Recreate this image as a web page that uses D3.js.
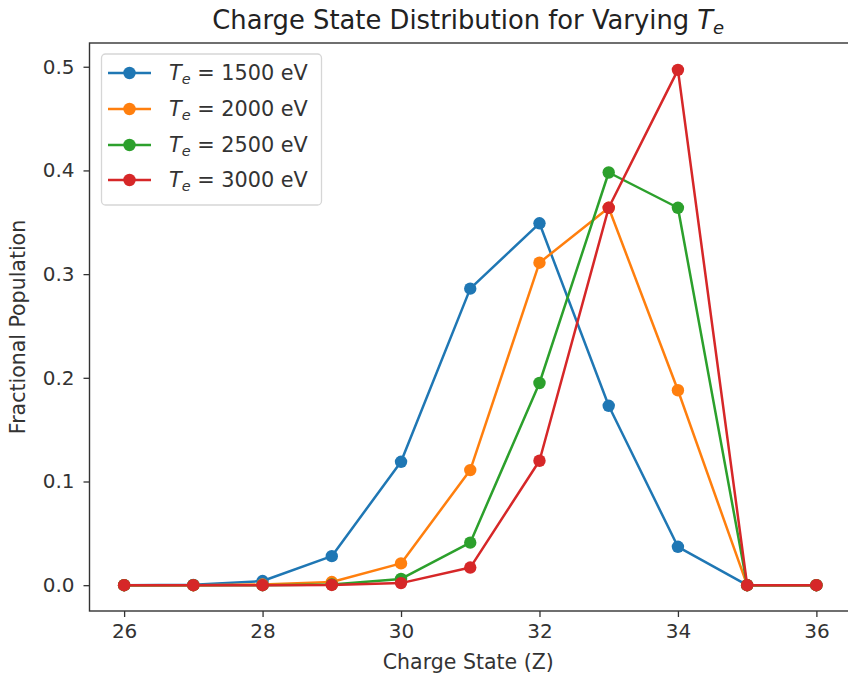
<!DOCTYPE html>
<html>
<head>
<meta charset="utf-8">
<script src="https://cdn.jsdelivr.net/npm/d3@7"></script>
<style>
  html, body { margin: 0; padding: 0; background: #fff; }
  svg { display: block; font-family: "DejaVu Sans", sans-serif; }
</style>
</head>
<body>
<svg id="chart" width="848" height="676"></svg>
<script>
// Charge states on the x axis
const chargeStates = [26, 27, 28, 29, 30, 31, 32, 33, 34, 35, 36];

// Fractional population for each electron temperature
const te1500 = [0.0, 0.0003, 0.004, 0.028, 0.119, 0.286, 0.349, 0.173, 0.037, 0.0, 0.0];
const te2000 = [0.0, 0.0, 0.0006, 0.003, 0.021, 0.111, 0.311, 0.364, 0.188, 0.0, 0.0];
const te2500 = [0.0, 0.0, 0.0, 0.0006, 0.006, 0.041, 0.195, 0.398, 0.364, 0.0, 0.0];
const te3000 = [0.0, 0.0, 0.0, 0.0002, 0.002, 0.017, 0.120, 0.364, 0.497, 0.0, 0.0];

const temperatures = [1500, 2000, 2500, 3000];
const seriesValues = [te1500, te2000, te2500, te3000];
const seriesColors = ["#1f77b4", "#ff7f0e", "#2ca02c", "#d62728"];

const xTicks = [26, 28, 30, 32, 34, 36];
const yTicks = [0.0, 0.1, 0.2, 0.3, 0.4, 0.5];

const svg = d3.select("#chart");
const plot = { left: 89.5, right: 851, top: 43, bottom: 611 };

const x = d3.scaleLinear().domain([25.5, 36.5]).range([plot.left, plot.right]);
const y = d3.scaleLinear().domain([-0.0249, 0.5229]).range([plot.bottom, plot.top]);

const tickFont = 20;

// Series: line then markers, later series on top
const line = d3.line().x(d => x(d[0])).y(d => y(d[1]));
seriesValues.forEach((vals, i) => {
  const pts = chargeStates.map((c, j) => [c, vals[j]]);
  const g = svg.append("g");
  g.append("path")
    .attr("d", line(pts))
    .attr("fill", "none")
    .attr("stroke", seriesColors[i])
    .attr("stroke-width", 2.5)
    .attr("stroke-linejoin", "round")
    .attr("stroke-linecap", "square");
  g.selectAll("circle").data(pts).enter().append("circle")
    .attr("cx", d => x(d[0]))
    .attr("cy", d => y(d[1]))
    .attr("r", 6.2)
    .attr("fill", seriesColors[i]);
});

// Axes frame
svg.append("rect")
  .attr("x", plot.left).attr("y", plot.top)
  .attr("width", plot.right - plot.left).attr("height", plot.bottom - plot.top)
  .attr("fill", "none").attr("stroke", "#333").attr("stroke-width", 1.4);

// X axis
const xAxis = d3.axisBottom(x).tickValues(xTicks).tickFormat(d3.format("d"))
  .tickSize(6).tickPadding(7);
const gx = svg.append("g").attr("transform", `translate(0,${plot.bottom})`).call(xAxis);
gx.select(".domain").remove();
gx.selectAll(".tick line").attr("stroke", "#333").attr("stroke-width", 1.3);
gx.selectAll(".tick text").attr("font-size", tickFont).attr("fill", "#333")
  .attr("font-family", "DejaVu Sans");

// Y axis
const yAxis = d3.axisLeft(y).tickValues(yTicks).tickFormat(d3.format(".1f"))
  .tickSize(6).tickPadding(9);
const gy = svg.append("g").attr("transform", `translate(${plot.left},0)`).call(yAxis);
gy.select(".domain").remove();
gy.selectAll(".tick line").attr("stroke", "#333").attr("stroke-width", 1.3);
gy.selectAll(".tick text").attr("font-size", tickFont).attr("fill", "#333")
  .attr("font-family", "DejaVu Sans");

// Axis labels
svg.append("text")
  .attr("x", (plot.left + plot.right) / 2 - 2).attr("y", 669)
  .attr("text-anchor", "middle").attr("font-size", 20.5).attr("fill", "#333")
  .text("Charge State (Z)");

svg.append("text")
  .attr("transform", `translate(25,${(plot.top + plot.bottom) / 2}) rotate(-90)`)
  .attr("text-anchor", "middle").attr("font-size", 20.5).attr("fill", "#333")
  .text("Fractional Population");

// Title with italic T and subscript e
const title = svg.append("text")
  .attr("x", (plot.left + plot.right) / 2 - 2).attr("y", 29)
  .attr("text-anchor", "middle").attr("font-size", 25.8).attr("fill", "#222");
title.append("tspan").text("Charge State Distribution for Varying ");
title.append("tspan").attr("font-style", "italic").text("T");
title.append("tspan").attr("font-style", "italic").attr("font-size", 18)
  .attr("dy", 5).text("e");

// Legend
const legend = svg.append("g");
legend.append("rect")
  .attr("x", 101.5).attr("y", 54).attr("width", 220).attr("height", 151)
  .attr("rx", 4).attr("ry", 4)
  .attr("fill", "#fff").attr("fill-opacity", 0.8)
  .attr("stroke", "#d6d6d6").attr("stroke-width", 1.3);

const rowY = [73, 109, 145, 180];
temperatures.forEach((t, i) => {
  const gy0 = rowY[i];
  legend.append("line")
    .attr("x1", 108).attr("x2", 151).attr("y1", gy0).attr("y2", gy0)
    .attr("stroke", seriesColors[i]).attr("stroke-width", 2.5);
  legend.append("circle")
    .attr("cx", 129.5).attr("cy", gy0).attr("r", 6.2).attr("fill", seriesColors[i]);
  const txt = legend.append("text")
    .attr("x", 169).attr("y", gy0 + 7).attr("font-size", 20.8).attr("fill", "#333");
  txt.append("tspan").attr("font-style", "italic").text("T");
  txt.append("tspan").attr("font-style", "italic").attr("font-size", 14.5)
    .attr("dy", 4).text("e");
  txt.append("tspan").attr("dy", -4).text(` = ${t} eV`);
});
</script>
</body>
</html>
